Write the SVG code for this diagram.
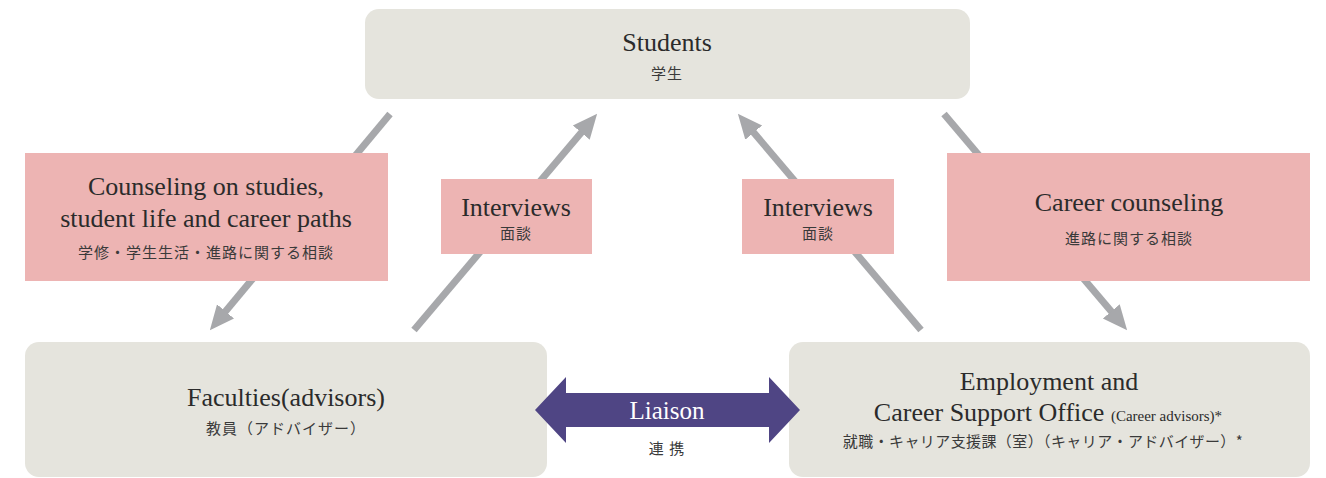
<svg xmlns="http://www.w3.org/2000/svg" width="1326" height="478" viewBox="0 0 1326 478">
<defs>
<style>
.node{fill:#e5e4dd}
.pink{fill:#edb4b3}
.en{font-family:"Liberation Serif","DejaVu Serif",serif;font-size:26px;fill:#2b2b2b;text-anchor:middle}
.jp{font-family:"Noto Sans CJK JP","Noto Sans",sans-serif;font-size:15px;letter-spacing:1px;fill:#3a3a3a;text-anchor:middle}
.conn{stroke:#a7a8ab;stroke-width:7;fill:none}
</style>
<marker id="ah" viewBox="0 0 10 10" refX="5" refY="5" markerWidth="3.5" markerHeight="3.5" markerUnits="strokeWidth" orient="auto">
<path d="M0,0.5 L10,5 L0,9.5 Z" fill="#a7a8ab"/>
</marker>
</defs>
<rect width="1326" height="478" fill="#ffffff"/>
<g id="connectors">
<line class="conn" x1="390" y1="114" x2="217.7" y2="320.8" marker-end="url(#ah)"/>
<line class="conn" x1="414" y1="330" x2="589.2" y2="123.2" marker-end="url(#ah)"/>
<line class="conn" x1="921" y1="330" x2="745.8" y2="123.2" marker-end="url(#ah)"/>
<line class="conn" x1="944" y1="114" x2="1119.2" y2="320.8" marker-end="url(#ah)"/>
</g>
<g id="students">
<rect class="node" x="365" y="9" width="605" height="90" rx="14"/>
<text class="en" x="667" y="51">Students</text>
<text class="jp" x="667" y="79">学生</text>
</g>
<g id="faculties">
<rect class="node" x="25" y="342" width="522" height="135" rx="14"/>
<text class="en" x="286" y="406">Faculties(advisors)</text>
<text class="jp" x="286" y="434">教員（アドバイザー）</text>
</g>
<g id="employment">
<rect class="node" x="789" y="342" width="521" height="135" rx="14"/>
<text class="en" x="1049" y="390">Employment and</text>
<text class="en" x="1048" y="421">Career Support Office <tspan style="font-size:15px">(Career advisors)*</tspan></text>
<text class="jp" x="1043" y="447" style="letter-spacing:0.4px">就職・キャリア支援課（室）（キャリア・アドバイザー）*</text>
</g>
<g id="liaison">
<path d="M535,410 L566,377 L566,393 L769,393 L769,377 L800,410 L769,443 L769,427 L566,427 L566,443 Z" fill="#4f4584"/>
<text x="667" y="419" style="font-family:'Liberation Serif','DejaVu Serif',serif;font-size:25px;fill:#ffffff;text-anchor:middle">Liaison</text>
<text class="jp" x="667" y="454">連 携</text>
</g>
<g id="counseling">
<rect class="pink" x="25" y="153" width="363" height="128"/>
<text class="en" x="206" y="195">Counseling on studies,</text>
<text class="en" x="206" y="227">student life and career paths</text>
<text class="jp" x="206" y="258">学修・学生生活・進路に関する相談</text>
</g>
<g id="interviews-left">
<rect class="pink" x="441" y="179" width="151" height="75"/>
<text class="en" x="516" y="216">Interviews</text>
<text class="jp" x="516" y="239">面談</text>
</g>
<g id="interviews-right">
<rect class="pink" x="742" y="179" width="152" height="75"/>
<text class="en" x="818" y="216">Interviews</text>
<text class="jp" x="818" y="239">面談</text>
</g>
<g id="career-counseling">
<rect class="pink" x="947" y="153" width="363" height="128"/>
<text class="en" x="1129" y="211">Career counseling</text>
<text class="jp" x="1129" y="244">進路に関する相談</text>
</g>
</svg>
